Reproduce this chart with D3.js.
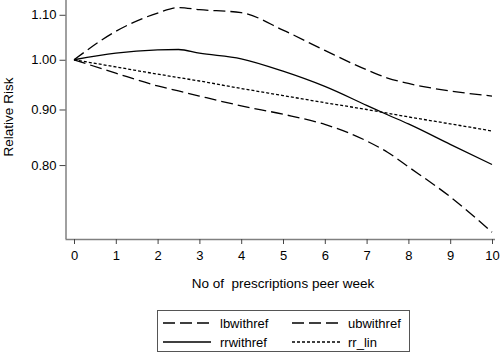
<!DOCTYPE html>
<html>
<head>
<meta charset="utf-8">
<script src="https://cdn.jsdelivr.net/npm/d3@7"></script>
<style>
  body { margin: 0; background: #fff; }
  text { font-family: "Liberation Sans", Arial, sans-serif; fill: #000; }
</style>
</head>
<body>
<div id="chart"></div>
<script>
// prescriptions per week
const xs = [0, 1, 2, 2.5, 3, 4, 5, 6, 7, 7.5, 8, 9, 10];
// relative risk series
const lbwithref = [1.0, 0.972, 0.946, 0.936, 0.926, 0.907, 0.891, 0.872, 0.842, 0.822, 0.797, 0.748, 0.694];
const ubwithref = [1.0, 1.062, 1.104, 1.117, 1.112, 1.105, 1.065, 1.020, 0.979, 0.962, 0.951, 0.936, 0.926];
const rrwithref = [1.0, 1.014, 1.021, 1.022, 1.014, 1.002, 0.976, 0.945, 0.908, 0.890, 0.873, 0.836, 0.801];
const rr_lin    = [1.0, 0.985, 0.970, 0.963, 0.956, 0.941, 0.927, 0.913, 0.900, 0.893, 0.886, 0.873, 0.860];
const xTicks = [0, 1, 2, 3, 4, 5, 6, 7, 8, 9, 10];
const yTicks = [0.80, 0.90, 1.00, 1.10];

const width = 500, height = 353;
const svg = d3.select("#chart").append("svg")
    .attr("width", width)
    .attr("height", height);

// scales (log y)
const x = d3.scaleLinear().domain([0, 10]).range([74, 492]);
const y = d3.scaleLog().domain([0.684, 1.135]).range([239, 0]);

// axes
const axisColor = "#808080";
const xAxis = svg.append("g")
    .attr("transform", "translate(0,239)")
    .call(d3.axisBottom(x).tickValues(xTicks).tickFormat(d3.format("d")).tickSize(5).tickPadding(5).tickSizeOuter(0));
xAxis.select(".domain").attr("stroke", axisColor).attr("stroke-width", 1.5)
    .attr("d", "M65.5,0.5H495");
xAxis.selectAll(".tick line").attr("stroke", "#444");
xAxis.selectAll(".tick text").style("font-size", "13px").attr("dy", "0.85em");

const yAxis = svg.append("g")
    .attr("transform", "translate(65.5,0)")
    .call(d3.axisLeft(y).tickValues(yTicks).tickFormat(d3.format(".2f")).tickSize(6).tickPadding(3).tickSizeOuter(0));
yAxis.select(".domain").attr("stroke", axisColor).attr("stroke-width", 1.5)
    .attr("d", "M0.5,0V239");
yAxis.selectAll(".tick line").attr("stroke", "#444");
yAxis.selectAll(".tick text").style("font-size", "13px");

// axis titles
svg.append("text")
    .attr("x", 283).attr("y", 288)
    .attr("text-anchor", "middle")
    .style("font-size", "13.5px")
    .style("white-space", "pre")
    .text("No of  prescriptions peer week");

svg.append("text")
    .attr("transform", "translate(13,117) rotate(-90)")
    .attr("text-anchor", "middle")
    .style("font-size", "13.5px")
    .text("Relative Risk");

// series
const series = [
    { name: "lbwithref", values: lbwithref, dash: "12,5" },
    { name: "ubwithref", values: ubwithref, dash: "12,5" },
    { name: "rrwithref", values: rrwithref, dash: null },
    { name: "rr_lin", values: rr_lin, dash: "3,2" }
];

const line = d3.line()
    .x((d, i) => x(xs[i]))
    .y(d => y(d))
    .curve(d3.curveMonotoneX);

svg.selectAll(".series")
    .data(series)
    .enter()
    .append("path")
    .attr("class", "series")
    .attr("d", d => line(d.values))
    .attr("fill", "none")
    .attr("stroke", "#000")
    .attr("stroke-width", 1.3)
    .attr("stroke-dasharray", d => d.dash);

// legend
const legend = svg.append("g");
legend.append("rect")
    .attr("x", 157.5).attr("y", 310.5)
    .attr("width", 252).attr("height", 41)
    .attr("fill", "#fff")
    .attr("stroke", "#555");

const legendPos = [
    { lx: 163, tx: 220, ly: 323 },
    { lx: 292, tx: 348, ly: 323 },
    { lx: 163, tx: 220, ly: 342 },
    { lx: 292, tx: 348, ly: 342 }
];
series.forEach((s, i) => {
    const p = legendPos[i];
    legend.append("line")
        .attr("x1", p.lx).attr("x2", p.lx + 48)
        .attr("y1", p.ly).attr("y2", p.ly)
        .attr("stroke", "#000")
        .attr("stroke-width", 1.3)
        .attr("stroke-dasharray", s.dash);
    legend.append("text")
        .attr("x", p.tx).attr("y", p.ly)
        .attr("dy", "0.35em")
        .style("font-size", "13px")
        .text(s.name);
});
</script>
</body>
</html>
